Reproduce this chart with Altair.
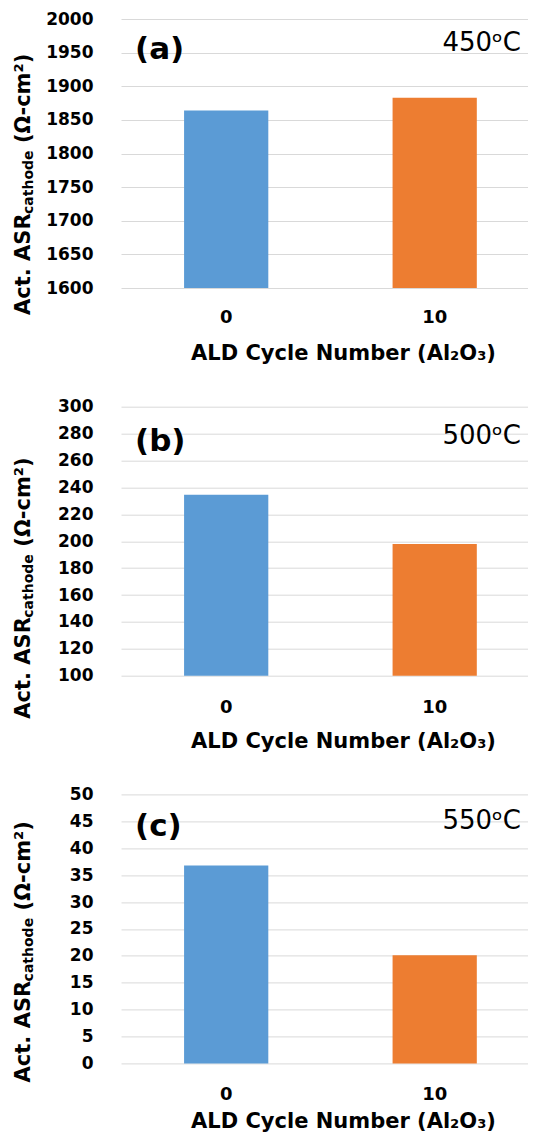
import altair as alt
import pandas as pd

FONT = "DejaVu Sans"

# ---- data ----
cycles = ["0", "10"]
asr_450 = [1864, 1883]
asr_500 = [234.5, 198]
asr_550 = [36.8, 20.1]
bar_colors = ["#5B9BD5", "#ED7D31"]

panel_labels = ["(a)", "(b)", "(c)"]
temps = ["450ᵒC", "500ᵒC", "550ᵒC"]

y_domains = [[1600, 2000], [100, 300], [0, 50]]
y_ticks = [
    [1600, 1650, 1700, 1750, 1800, 1850, 1900, 1950, 2000],
    [100, 120, 140, 160, 180, 200, 220, 240, 260, 280, 300],
    [0, 5, 10, 15, 20, 25, 30, 35, 40, 45, 50],
]

x_title = "ALD Cycle Number (Al₂O₃)"
y_title_main = "Act. ASR"
y_title_sub = "cathode"
y_title_unit = "(Ω-cm²)"

W, H = 407, 269


def panel(vals, ydom, yticks, label, temp, lab_y, temp_y, ty0, lab_pad, title_y):
    df = pd.DataFrame({"cycle": cycles, "asr": vals})
    bars = alt.Chart(df).mark_bar().encode(
        x=alt.X(
            "cycle:N",
            sort=cycles,
            scale=alt.Scale(paddingInner=0.596, paddingOuter=0.274, align=0.552),
            axis=alt.Axis(
                title=x_title,
                labelAngle=0,
                labelFontSize=18,
                labelFontWeight="bold",
                labelColor="#000",
                labelPadding=lab_pad,
                ticks=False,
                domain=False,
                grid=False,
                titleFontSize=21,
                titleFontWeight="bold",
                titleColor="#000",
                titleX=222,
                titleY=title_y,
                titleBaseline="top",
            ),
        ),
        y=alt.Y(
            "asr:Q",
            scale=alt.Scale(domain=ydom, nice=False, zero=False),
            axis=alt.Axis(
                title=None,
                values=yticks,
                format="d",
                labelFontSize=17,
                labelFontWeight="bold",
                labelColor="#000",
                labelPadding=28,
                labelFlush=False,
                labelOverlap=False,
                ticks=False,
                domain=False,
                grid=True,
                gridColor="#D9D9D9",
                gridWidth=1,
            ),
        ),
        y2=alt.datum(ydom[0]),
        color=alt.Color(
            "cycle:N", scale=alt.Scale(domain=cycles, range=bar_colors), legend=None
        ),
    )
    ann = pd.DataFrame({"label": [label], "temp": [temp]})
    lab = alt.Chart(ann).mark_text(
        align="left", baseline="middle", fontSize=31, fontWeight="bold",
        font=FONT, color="#000"
    ).encode(x=alt.value(14), y=alt.value(lab_y), text="label:N")
    tmp = alt.Chart(ann).mark_text(
        align="right", baseline="alphabetic", fontSize=26,
        font=FONT, color="#000"
    ).encode(x=alt.value(400), y=alt.value(temp_y), text="temp:N")

    t = pd.DataFrame({"main": [y_title_main], "sub": [y_title_sub], "unit": [y_title_unit]})
    yt1 = alt.Chart(t).mark_text(
        align="left", baseline="alphabetic", angle=270, fontSize=21,
        fontWeight="bold", font=FONT, color="#000"
    ).encode(x=alt.value(-91), y=alt.value(ty0), text="main:N")
    yt2 = alt.Chart(t).mark_text(
        align="left", baseline="alphabetic", angle=270, fontSize=14,
        fontWeight="bold", font=FONT, color="#000"
    ).encode(x=alt.value(-88), y=alt.value(ty0 - 101), text="sub:N")
    yt3 = alt.Chart(t).mark_text(
        align="left", baseline="alphabetic", angle=270, fontSize=21,
        fontWeight="bold", font=FONT, color="#000"
    ).encode(x=alt.value(-91), y=alt.value(ty0 - 172), text="unit:N")

    return alt.layer(bars, lab, tmp, yt1, yt2, yt3).properties(width=W, height=H)


pa = panel(asr_450, y_domains[0], y_ticks[0], panel_labels[0], temps[0], 30.5, 32, 296, 20.5, 54.5)
pb = panel(asr_500, y_domains[1], y_ticks[1], panel_labels[1], temps[1], 35, 37, 312, 23, 55)
pc = panel(asr_550, y_domains[2], y_ticks[2], panel_labels[2], temps[2], 32.5, 35, 288, 22.5, 47)

chart = (
    alt.vconcat(pa, pb, pc, spacing=118.7, bounds="flush")
    .properties(padding={"left": 5, "top": 2, "right": 0, "bottom": 0})
    .configure_view(stroke=None)
    .configure_axis(labelFont=FONT, titleFont=FONT)
    .configure_text(font=FONT)
)

chart.save("out.html", embed_options={"renderer": "svg", "actions": False})
